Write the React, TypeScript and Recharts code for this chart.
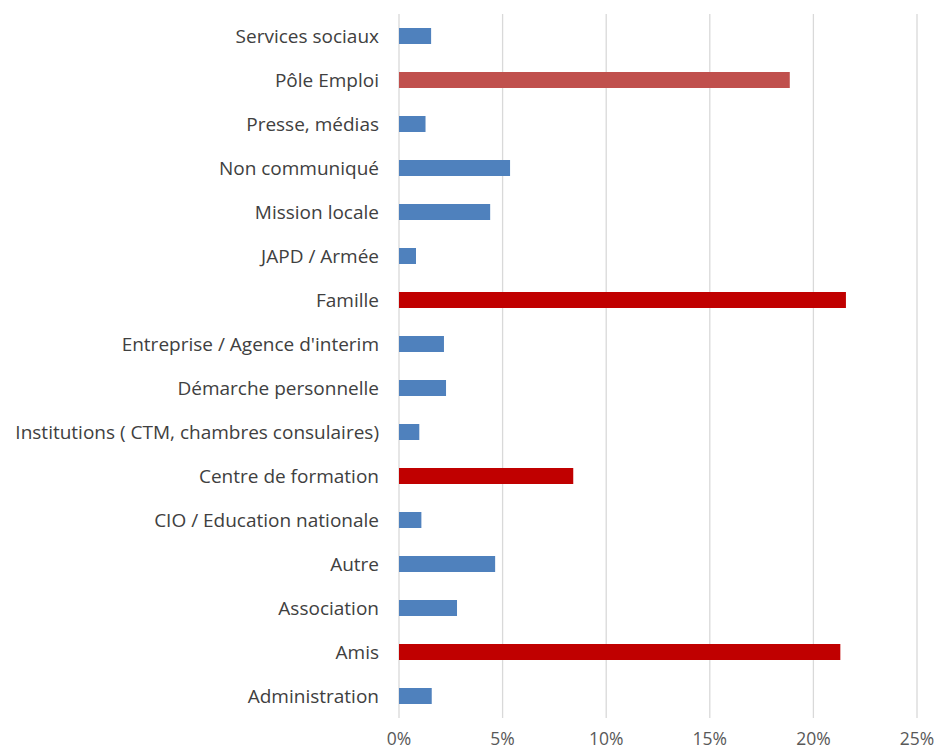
import React from "react";
import { BarChart, Bar, XAxis, YAxis, CartesianGrid, Cell } from "recharts";

const categories = [
  "Services sociaux",
  "Pôle Emploi",
  "Presse, médias",
  "Non communiqué",
  "Mission locale",
  "JAPD / Armée",
  "Famille",
  "Entreprise / Agence d'interim",
  "Démarche personnelle",
  "Institutions ( CTM, chambres consulaires)",
  "Centre de formation",
  "CIO / Education nationale",
  "Autre",
  "Association",
  "Amis",
  "Administration",
];

const values = [1.55, 18.86, 1.28, 5.36, 4.4, 0.82, 21.57, 2.17, 2.27, 0.98, 8.41, 1.08, 4.64, 2.8, 21.3, 1.58];

const colors = [
  "#4F81BD", "#C0504D", "#4F81BD", "#4F81BD", "#4F81BD", "#4F81BD", "#C00000", "#4F81BD",
  "#4F81BD", "#4F81BD", "#C00000", "#4F81BD", "#4F81BD", "#4F81BD", "#C00000", "#4F81BD",
];

const xTicks = [0, 5, 10, 15, 20, 25];

const data = categories.map((name, i) => ({ name, value: values[i], color: colors[i] }));

const font = "'Open Sans', sans-serif";

export default function App() {
  return (
    <div style={{ position: "absolute", left: 0, top: 0, width: 936, height: 751, background: "#fff" }}>
      <BarChart
        width={936}
        height={751}
        data={data}
        layout="vertical"
        margin={{ top: 14, right: 19, bottom: 3, left: 0 }}
        barSize={16}
      >
        <CartesianGrid horizontal={false} stroke="#D9D9D9" strokeWidth={1.3} />
        <XAxis
          type="number"
          domain={[0, 25]}
          ticks={xTicks}
          tickFormatter={(v: number) => `${v}%`}
          axisLine={false}
          tickLine={false}
          tickSize={0}
          tickMargin={15}
          height={30}
          tick={{ fill: "#595959", fontSize: 17.5, fontFamily: font }}
        />
        <YAxis
          type="category"
          dataKey="name"
          width={399}
          axisLine={false}
          tickLine={false}
          tickSize={0}
          tickMargin={20}
          interval={0}
          tick={{ fill: "#404040", fontSize: 19, fontFamily: font }}
        />
        <Bar dataKey="value" isAnimationActive={false}>
          {data.map((d, i) => (
            <Cell key={i} fill={d.color} />
          ))}
        </Bar>
      </BarChart>
    </div>
  );
}
